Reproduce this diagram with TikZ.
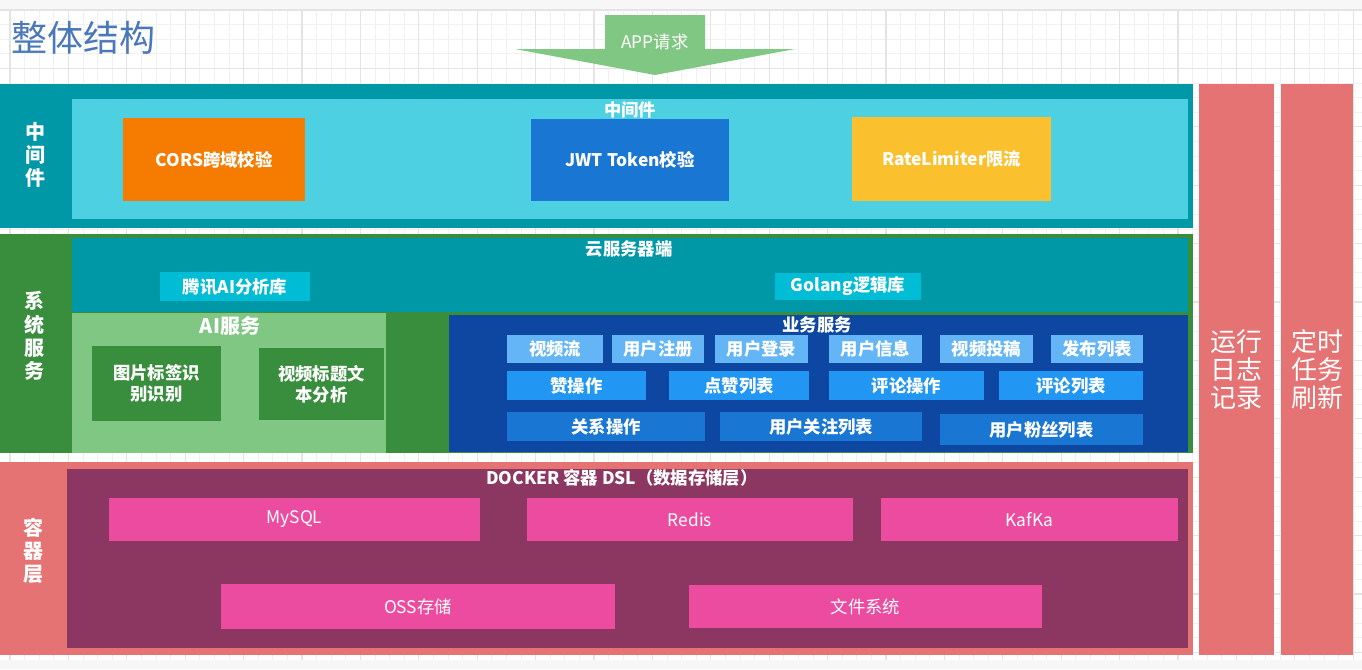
\documentclass[tikz,border=0pt]{standalone}
\usepackage{fontspec}
\setmainfont{Noto Sans CJK SC}

\definecolor{tealdk}{HTML}{0097A7}
\definecolor{cyanlt}{HTML}{4DD0E1}
\definecolor{cyanbx}{HTML}{00BCD4}
\definecolor{orangebx}{HTML}{F57C00}
\definecolor{bluebx}{HTML}{1976D2}
\definecolor{yellowbx}{HTML}{FBC02D}
\definecolor{greendk}{HTML}{388E3C}
\definecolor{greenlt}{HTML}{81C784}
\definecolor{navy}{HTML}{0D47A1}
\definecolor{bluelt}{HTML}{64B5F6}
\definecolor{bluemd}{HTML}{2196F3}
\definecolor{salmon}{HTML}{E57373}
\definecolor{plum}{HTML}{8C3762}
\definecolor{pinkbx}{HTML}{EC4C9F}
\definecolor{titleblue}{HTML}{4A78B8}
\definecolor{gridmin}{HTML}{F1F1F1}
\definecolor{gridmaj}{HTML}{E4E4E4}

\begin{document}
\begin{tikzpicture}[x=0.75pt,y=-0.75pt,
  blk/.style={fill=#1,inner sep=0pt,outer sep=0pt,anchor=north west,text=white,align=center,
    font=\bfseries\fontsize{13}{16}\selectfont},
  wh/.style 2 args={minimum width=#1*0.75pt,minimum height=#2*0.75pt},
  ttl/.style={text=white,inner sep=0pt,font=\bfseries\fontsize{13}{15}\selectfont},
  side/.style={text=white,inner sep=0pt,align=center,font=\bfseries\fontsize{15}{17.5}\selectfont},
  store/.style={blk=pinkbx,font=\fontsize{13}{15}\selectfont},
  column/.style={blk=salmon,font=\fontsize{19.5}{21}\selectfont}]
\useasboundingbox (0,0) rectangle (1362,669);
\fill[white] (0,0) rectangle (1362,669);
\fill[gray!6] (0,0) rectangle (1362,10) (0,660) rectangle (1362,669);
\foreach \i in {0,...,92} \draw[gridmin,line width=0.6pt] ({10+\i*14.6},10) -- ({10+\i*14.6},660);
\foreach \j in {0,...,44} \draw[gridmin,line width=0.6pt] (0,{10+\j*14.6}) -- (1362,{10+\j*14.6});
\foreach \i in {0,...,23} \draw[gridmaj,line width=0.8pt] ({10+\i*58.4},10) -- ({10+\i*58.4},660);
\foreach \j in {0,...,11} \draw[gridmaj,line width=0.8pt] (0,{10+\j*58.4}) -- (1362,{10+\j*58.4});

\node[anchor=west,inner sep=0pt,text=titleblue,font=\fontsize{27}{30}\selectfont] (title) at (11,38) {整体结构};

\fill[greenlt] (605,15) -- (705,15) -- (705,49) -- (795,49) -- (655,75) -- (515,49) -- (605,49) -- cycle;
\node[text=white,inner sep=0pt,font=\fontsize{13}{15}\selectfont] (app) at (655,42) {APP请求};

% 中间件
\node[blk=tealdk,wh={1193}{144}] (mid) at (0,84) {};
\node[blk=cyanlt,wh={1116}{120}] (midin) at (72,99) {};
\node[ttl] (midttl) at (630,110) {中间件};
\node[side] (midside) at (35,155) {中\\间\\件};
\node[blk=orangebx,wh={182}{83}] (cors) at (123,118) {CORS跨域校验};
\node[blk=bluebx,wh={198}{82}] (jwt) at (531,119) {JWT Token校验};
\node[blk=yellowbx,wh={199}{84}] (rate) at (852,117) {RateLimiter限流};

% 系统服务
\node[blk=greendk,wh={1193}{219}] (sys) at (0,234) {};
\node[side] (sysside) at (34,336) {系\\统\\服\\务};
\node[blk=tealdk,wh={1116}{74}] (cloud) at (72,238) {};
\node[ttl] (cloudttl) at (629,249) {云服务器端};
\node[blk=cyanbx,wh={150}{29}] (tencent) at (160,272) {腾讯AI分析库};
\node[blk=cyanbx,wh={146}{27}] (golang) at (775,273) {Golang逻辑库};
\node[blk=greenlt,wh={314}{140}] (ai) at (72,313) {};
\node[ttl,font=\bfseries\fontsize{15}{17}\selectfont] (aittl) at (230,326) {AI服务};
\node[blk=greendk,wh={129}{75}] (img) at (92,346) {图片标签识\\别识别};
\node[blk=greendk,wh={125}{72}] (vid) at (259,348) {视频标题文\\本分析};
\node[blk=navy,wh={739}{137}] (biz) at (449,315) {};
\node[ttl] (bizttl) at (817,325) {业务服务};
\foreach \n/\x/\w/\t in {feed/507/96/视频流,reg/612/92/用户注册,login/715/93/用户登录,
  info/829/93/用户信息,upload/940/93/视频投稿,pub/1051/92/发布列表}
  \node[blk=bluelt,wh={\w}{28}] (\n) at (\x,335) {\t};
\foreach \n/\x/\w/\t in {fav/507/139/赞操作,favl/669/140/点赞列表,cmt/829/155/评论操作,cmtl/999/144/评论列表}
  \node[blk=bluemd,wh={\w}{29}] (\n) at (\x,371) {\t};
\node[blk=bluebx,wh={198}{29}] (rel) at (507,412) {关系操作};
\node[blk=bluebx,wh={202}{29}] (follow) at (720,412) {用户关注列表};
\node[blk=bluebx,wh={203}{31}] (fans) at (940,414) {用户粉丝列表};

% 容器层
\node[blk=salmon,wh={1193}{193}] (ctr) at (0,462) {};
\node[side] (ctrside) at (33,551) {容\\器\\层};
\node[blk=plum,wh={1121}{179}] (dock) at (67,469) {};
\node[ttl] (dockttl) at (622,478) {DOCKER 容器 DSL（数据存储层）};
\node[store,wh={371}{43}] (mysql) at (109,498) {MySQL};
\node[store,wh={326}{43}] (redis) at (527,498) {Redis};
\node[store,wh={297}{43}] (kafka) at (881,498) {KafKa};
\node[store,wh={394}{45}] (oss) at (221,584) {OSS存储};
\node[store,wh={353}{43}] (fs) at (689,585) {文件系统};

\node[column,wh={75}{571}] (logcol) at (1199,84) {运行\\日志\\记录};
\node[column,wh={72}{571}] (timecol) at (1281,84) {定时\\任务\\刷新};
\end{tikzpicture}
\end{document}
